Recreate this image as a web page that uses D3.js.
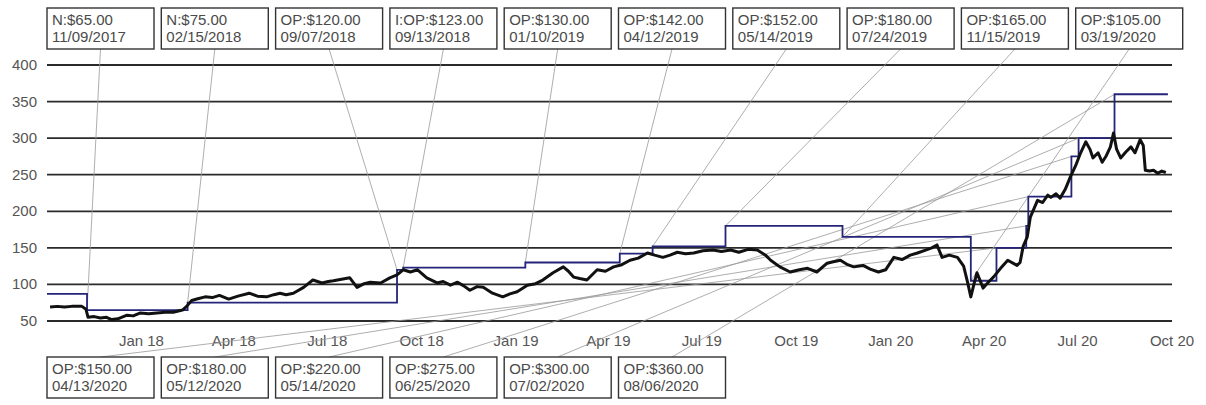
<!DOCTYPE html>
<html>
<head>
<meta charset="utf-8">
<script src="https://cdn.jsdelivr.net/npm/d3@7"></script>
<style>
  body { margin: 0; background: #fff; }
  svg { display: block; font-family: "Liberation Sans", Arial, sans-serif; }
  .grid line { stroke: #2a2a2a; stroke-width: 1.8; }
  .tick-label { fill: #555; font-size: 15px; }
  .note-box { fill: #fff; stroke: #333; stroke-width: 1.4; }
  .note-text { fill: #4a4a4a; font-size: 15px; }
  .connector { stroke: #999; stroke-width: 0.8; fill: none; }
</style>
</head>
<body>
<svg id="chart" width="1206" height="405"></svg>
<script>
// price target history (step line)
const targetDates = ["2017-10-01", "2017-11-09", "2018-02-15", "2018-09-07", "2018-09-13", "2019-01-10",
  "2019-04-12", "2019-05-14", "2019-07-24", "2019-11-15", "2020-03-19", "2020-04-13", "2020-05-12",
  "2020-05-14", "2020-06-25", "2020-07-02", "2020-08-06", "2020-09-27"];
const targetValues = [87, 65, 75, 120, 123, 130, 142, 152, 180, 165, 105, 150, 180, 220, 275, 300, 360, 360];

// rating change notes (one per target change)
const notePrefix = ["N", "N", "OP", "I:OP", "OP", "OP", "OP", "OP", "OP", "OP",
  "OP", "OP", "OP", "OP", "OP", "OP"];
const noteDates = ["11/09/2017", "02/15/2018", "09/07/2018", "09/13/2018", "01/10/2019", "04/12/2019",
  "05/14/2019", "07/24/2019", "11/15/2019", "03/19/2020", "04/13/2020", "05/12/2020", "05/14/2020",
  "06/25/2020", "07/02/2020", "08/06/2020"];
const topRowCount = 10;

// closing price
const priceDates = ["2017-10-04", "2017-10-11", "2017-10-18", "2017-10-25", "2017-11-04", "2017-11-08",
  "2017-11-10", "2017-11-16", "2017-11-22", "2017-11-28", "2017-12-03", "2017-12-09", "2017-12-18",
  "2017-12-24", "2017-12-31", "2018-01-08", "2018-01-16", "2018-01-24", "2018-02-01", "2018-02-10",
  "2018-02-14", "2018-02-19", "2018-02-24", "2018-03-04", "2018-03-11", "2018-03-18", "2018-03-27",
  "2018-04-05", "2018-04-16", "2018-04-24", "2018-05-03", "2018-05-10", "2018-05-16", "2018-05-22",
  "2018-05-29", "2018-06-08", "2018-06-17", "2018-06-26", "2018-07-02", "2018-07-07", "2018-07-15",
  "2018-07-23", "2018-07-30", "2018-08-06", "2018-08-12", "2018-08-22", "2018-08-31", "2018-09-07",
  "2018-09-13", "2018-09-20", "2018-09-27", "2018-10-06", "2018-10-16", "2018-10-22", "2018-10-29",
  "2018-11-05", "2018-11-11", "2018-11-17", "2018-11-24", "2018-11-30", "2018-12-09", "2018-12-19",
  "2018-12-26", "2019-01-02", "2019-01-12", "2019-01-20", "2019-01-27", "2019-02-06", "2019-02-16",
  "2019-02-21", "2019-02-26", "2019-03-04", "2019-03-11", "2019-03-21", "2019-03-29", "2019-04-06",
  "2019-04-14", "2019-04-22", "2019-04-30", "2019-05-09", "2019-05-16", "2019-05-24", "2019-05-31",
  "2019-06-07", "2019-06-15", "2019-06-23", "2019-07-02", "2019-07-12", "2019-07-20", "2019-07-29",
  "2019-08-06", "2019-08-15", "2019-08-24", "2019-09-01", "2019-09-06", "2019-09-15", "2019-09-25",
  "2019-10-04", "2019-10-12", "2019-10-21", "2019-10-31", "2019-11-06", "2019-11-13", "2019-11-20",
  "2019-11-26", "2019-12-05", "2019-12-12", "2019-12-20", "2019-12-27", "2020-01-04", "2020-01-12",
  "2020-01-20", "2020-01-27", "2020-02-04", "2020-02-10", "2020-02-15", "2020-02-20", "2020-02-27",
  "2020-03-06", "2020-03-12", "2020-03-16", "2020-03-19", "2020-03-22", "2020-03-25", "2020-03-31",
  "2020-04-05", "2020-04-10", "2020-04-17", "2020-04-24", "2020-05-03", "2020-05-06", "2020-05-09",
  "2020-05-13", "2020-05-16", "2020-05-23", "2020-05-28", "2020-06-02", "2020-06-05", "2020-06-10",
  "2020-06-14", "2020-06-19", "2020-06-24", "2020-06-29", "2020-07-04", "2020-07-09", "2020-07-13",
  "2020-07-16", "2020-07-21", "2020-07-25", "2020-07-29", "2020-08-02", "2020-08-05", "2020-08-08",
  "2020-08-12", "2020-08-17", "2020-08-22", "2020-08-26", "2020-08-31", "2020-09-03", "2020-09-05",
  "2020-09-09", "2020-09-13", "2020-09-17", "2020-09-21", "2020-09-25"];
const priceValues = [69, 70, 69, 70, 70, 66,
  55, 56, 54, 55, 52, 53, 58,
  57, 61, 60, 61, 62, 62, 65,
  70, 78, 80, 83, 82, 85, 80,
  84, 88, 84, 83, 86, 88, 86,
  88, 96, 106, 102, 104, 105, 107,
  109, 96, 101, 103, 102, 109, 113,
  120, 117, 120, 109, 102, 104, 99,
  103, 98, 92, 97, 96, 88, 83,
  87, 90, 99, 101, 106, 116, 124,
  118, 110, 108, 106, 120, 118, 124,
  127, 133, 136, 143, 140, 137, 140,
  144, 142, 143, 146, 147, 145, 147,
  144, 148, 147, 140, 133, 124, 117,
  120, 122, 117, 129, 131, 133, 127,
  124, 126, 121, 117, 120, 137, 134,
  140, 143, 147, 150, 154, 137, 140,
  137, 125, 102, 83, 100, 116, 95,
  103, 110, 122, 133, 126, 130, 152,
  165, 192, 215, 212, 222, 219, 224,
  218, 230, 247, 262, 280, 295, 285,
  273, 280, 267, 276, 288, 307, 285,
  273, 281, 288, 280, 298, 290, 256,
  255, 256, 252, 255, 253];

const svg = d3.select("#chart");
const parse = d3.timeParse("%Y-%m-%d");

const x = d3.scaleTime()
  .domain([parse("2017-10-01"), parse("2020-10-01")])
  .range([47, 1172]);
const y = d3.scaleLinear()
  .domain([50, 400])
  .range([321, 65]);

const yTicks = [50, 100, 150, 200, 250, 300, 350, 400];
const xTickDates = ["2018-01-01", "2018-04-01", "2018-07-01", "2018-10-01", "2019-01-01", "2019-04-01",
  "2019-07-01", "2019-10-01", "2020-01-01", "2020-04-01", "2020-07-01", "2020-10-01"];

// horizontal grid
const grid = svg.append("g").attr("class", "grid");
grid.selectAll("line")
  .data(yTicks)
  .join("line")
  .attr("x1", x.range()[0])
  .attr("x2", x.range()[1])
  .attr("y1", d => y(d))
  .attr("y2", d => y(d));

svg.append("g")
  .selectAll("text")
  .data(yTicks)
  .join("text")
  .attr("class", "tick-label")
  .attr("x", 37)
  .attr("y", d => y(d) + 5)
  .attr("text-anchor", "end")
  .text(d => d);

const fmt = d3.timeFormat("%b %y");
svg.append("g")
  .selectAll("text")
  .data(xTickDates.map(parse))
  .join("text")
  .attr("class", "tick-label")
  .attr("x", d => x(d))
  .attr("y", 346)
  .attr("text-anchor", "middle")
  .text(d => fmt(d));

// connectors from notes to the target step
const targets = targetDates.map((d, i) => ({ date: parse(d), value: targetValues[i] }));
const noteData = noteDates.map((d, i) => {
  const top = i < topRowCount;
  const col = top ? i : i - topRowCount;
  const bx = 47 + col * 114.3;
  const by = top ? 8 : 357;
  const t = targets[i + 1];
  return {
    prefix: notePrefix[i],
    value: t.value,
    label: d,
    bx, by, top,
    px: x(t.date),
    py: y(t.value)
  };
});

svg.append("g")
  .selectAll("line")
  .data(noteData)
  .join("line")
  .attr("class", "connector")
  .attr("x1", d => d.bx + 53.5)
  .attr("y1", d => d.top ? d.by + 41 : d.by)
  .attr("x2", d => d.px)
  .attr("y2", d => d.py);

// target step line
svg.append("path")
  .datum(targets)
  .attr("fill", "none")
  .attr("stroke", "#24257a")
  .attr("stroke-width", 1.8)
  .attr("d", d3.line().curve(d3.curveStepAfter).x(d => x(d.date)).y(d => y(d.value)));

// price line
const prices = priceDates.map((d, i) => ({ date: parse(d), value: priceValues[i] }));
svg.append("path")
  .datum(prices)
  .attr("fill", "none")
  .attr("stroke", "#111")
  .attr("stroke-width", 3)
  .attr("stroke-linejoin", "round")
  .attr("d", d3.line().x(d => x(d.date)).y(d => y(d.value)));

// note boxes
const notes = svg.append("g")
  .selectAll("g")
  .data(noteData)
  .join("g")
  .attr("transform", d => `translate(${d.bx},${d.by})`);

notes.append("rect")
  .attr("class", "note-box")
  .attr("width", 107)
  .attr("height", 41);

notes.append("text")
  .attr("class", "note-text")
  .attr("x", 5)
  .attr("y", 17)
  .text(d => `${d.prefix}:$${d.value.toFixed(2)}`);

notes.append("text")
  .attr("class", "note-text")
  .attr("x", 5)
  .attr("y", 34)
  .text(d => d.label);
</script>
</body>
</html>
